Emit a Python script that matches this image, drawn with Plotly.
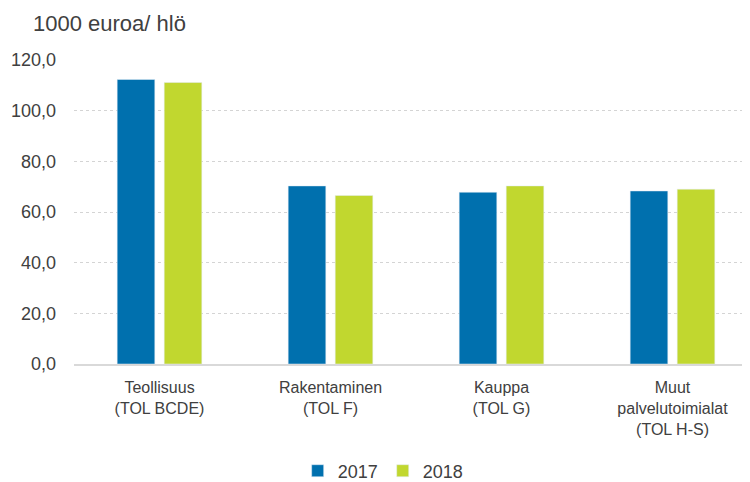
import plotly.graph_objects as go

categories = ["Teollisuus<br>(TOL BCDE)", "Rakentaminen<br>(TOL F)", "Kauppa<br>(TOL G)",
              "Muut<br>palvelutoimialat<br>(TOL H-S)"]
values_2017 = [112.3, 70.3, 67.8, 68.3]
values_2018 = [111.1, 66.5, 70.3, 69.0]
tick_vals = [0, 20, 40, 60, 80, 100, 120]

font_family = "Liberation Sans, Arial, sans-serif"
text_color = "#404040"

fig = go.Figure()
fig.add_trace(go.Bar(name="2017", x=categories, y=values_2017, marker_color="#0070AE"))
fig.add_trace(go.Bar(name="2018", x=categories, y=values_2018, marker_color="#C1D72F"))

fig.update_layout(
    width=750, height=482,
    margin=dict(l=66, r=0, t=52, b=123),
    paper_bgcolor="white", plot_bgcolor="white",
    barmode="group", bargap=0.45, bargroupgap=0.2,
    separators=",.",
    font=dict(family=font_family, size=18, color=text_color),
    showlegend=True,
    legend=dict(orientation="h", x=0.452, xanchor="center", y=-0.352, yanchor="middle",
                font=dict(size=18), itemwidth=30, tracegroupgap=0),
    annotations=[dict(text="1000 euroa/ hlö", xref="paper", yref="paper",
                      x=-0.0629, y=1.0, xanchor="left", yanchor="middle", yshift=37,
                      showarrow=False, font=dict(size=22, color=text_color))],
)
fig.update_xaxes(showline=True, linecolor="#d9d9d9", linewidth=1.5, ticks="",
                 tickfont=dict(size=16), showgrid=False, ticklabelstandoff=8)
fig.update_yaxes(range=[0, 120], tickvals=tick_vals, tickformat=".1f",
                 showgrid=True, gridcolor="#d4d4d4", griddash="dot", gridwidth=1,
                 zeroline=False, showline=False, ticks="", ticklabelstandoff=17)

fig.write_html("out.html")
